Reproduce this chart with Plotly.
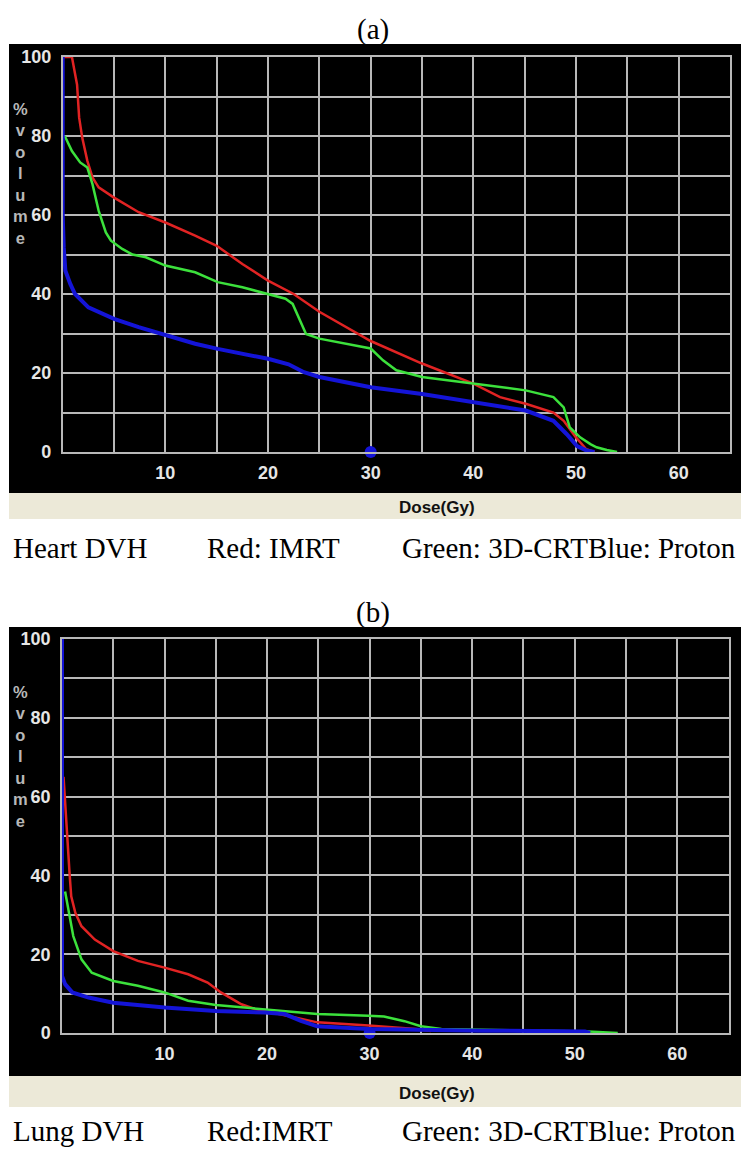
import plotly.graph_objects as go

W, H = 741, 1150

# ---------------- data ----------------
heart_imrt_dose = [0, 0.9, 1.4, 1.6, 1.9, 2.4, 2.9, 3.5, 5, 7.4, 10, 12.9, 15, 17.5, 20, 22.5, 25, 30, 35, 40, 42.6, 45.1, 47.8, 48.8, 50, 51, 51.8]
heart_imrt_vol = [100, 100, 93, 84.7, 79.6, 73.7, 69.5, 67, 64.4, 60.7, 58.1, 54.8, 52.2, 47.6, 43.4, 40.0, 35.5, 28.1, 22.4, 17.3, 13.9, 12.2, 10, 7.9, 3.7, 0.7, 0]

heart_3d_dose = [0.2, 0.9, 1.7, 2.4, 2.9, 3.5, 4.2, 4.7, 5.8, 6.8, 8.1, 10, 12.9, 15.1, 17.5, 20, 21.7, 22.4, 23, 23.7, 25, 30, 31.2, 32.5, 35, 40, 45.1, 47.8, 48.8, 49.4, 50.4, 51.4, 52, 53, 54]
heart_3d_vol = [80, 76.2, 73.3, 72, 67.8, 61.1, 55.6, 53.5, 51.4, 50, 49.3, 47.2, 45.5, 43, 41.7, 40, 38.8, 37.5, 34.1, 29.9, 28.7, 26.2, 23.2, 20.7, 19, 17.3, 15.6, 13.9, 11.3, 6.2, 3.7, 2, 1.2, 0.5, 0]

heart_proton_dose = [0, 0, 0.1, 0.26, 0.75, 1.2, 2.5, 5, 7.4, 10, 12.9, 15.1, 17.5, 20, 22, 23.5, 25, 30, 35, 40, 45.1, 47.8, 49.1, 50.1, 51, 51.8]
heart_proton_vol = [100, 60, 51.8, 45.9, 42.5, 40, 36.6, 33.7, 31.6, 29.5, 27.4, 26.1, 24.9, 23.6, 22.2, 20.2, 19, 16.4, 14.7, 12.6, 10.5, 7.9, 4.5, 1.5, 0.4, 0]

lung_imrt_dose = [0.15, 0.3, 0.5, 0.65, 0.75, 0.9, 1.3, 1.9, 3.2, 5, 7.4, 10, 12.3, 14.2, 15.5, 17.5, 18.8, 19.8, 22, 24.9, 29.9, 32, 34.5, 36]
lung_imrt_vol = [65, 58, 51.5, 45, 40, 34.7, 30.5, 27.1, 23.7, 20.8, 18.3, 16.6, 14.9, 12.8, 10.3, 7.3, 6.1, 5.6, 4.4, 2.7, 1.9, 1.5, 1.0, 0.5]

lung_3d_dose = [0.3, 0.65, 1.1, 1.9, 2.9, 5, 7.4, 10, 12.3, 15, 17.5, 19.8, 22, 24.9, 29.9, 31.4, 33.4, 35, 37, 41.5, 47.7, 51.3, 54.2]
lung_3d_vol = [35.9, 30.5, 24.6, 18.7, 15.3, 13.2, 12, 10.3, 8.2, 7.1, 6.5, 6.1, 5.6, 4.8, 4.4, 4.2, 3, 1.7, 1, 0.8, 0.6, 0.4, 0]

lung_proton_dose = [0, 0, 0.3, 1, 2.6, 5, 10, 15, 19.8, 21.7, 23.3, 24.9, 28.5, 30, 41, 51, 51.5]
lung_proton_vol = [100, 14.5, 12.4, 10.3, 9, 7.7, 6.5, 5.6, 5.2, 4.8, 3.1, 1.7, 1.2, 1.0, 0.6, 0.4, 0]

marker_dose = [30]
marker_vol = [0]

x_tickvals = [0, 5, 10, 15, 20, 25, 30, 35, 40, 45, 50, 55, 60, 65]
x_ticktext = ["", "", "10", "", "20", "", "30", "", "40", "", "50", "", "60", ""]
y_tickvals = [0, 10, 20, 30, 40, 50, 60, 70, 80, 90, 100]
y_ticktext = ["0", "", "20", "", "40", "", "60", "", "80", "", "100"]

panel_titles = ["(a)", "(b)"]
organ_captions = ["Heart DVH", "Lung DVH"]
imrt_captions = ["Red: IMRT", "Red:IMRT"]
other_caption = "Green: 3D-CRTBlue: Proton"
x_title = "Dose(Gy)"
y_title_letters = ["%", "v", "o", "l", "u", "m", "e"]

# ---------------- styling ----------------
RED = "rgb(225,35,35)"
GREEN = "rgb(60,225,60)"
BLUE = "rgb(20,20,215)"
GRID = "#b8b8b8"
BEIGE = "#ECE9D8"


def px_x(p):
    return p / W


def px_y(p):
    return (H - p) / H


fig = go.Figure()

panels = [
    dict(xa="x", ya="y", xd=(62.7, 730), yd=(452, 57), black=(44, 493), beige=(493, 519),
         title_y=30, dose_y=507, cap_y=548, vol_y=173,
         series=[(heart_imrt_dose, heart_imrt_vol, RED, 2.5),
                 (heart_3d_dose, heart_3d_vol, GREEN, 2.5),
                 (heart_proton_dose, heart_proton_vol, BLUE, 4)]),
    dict(xa="x2", ya="y2", xd=(62, 728.5), yd=(1033, 639), black=(627, 1076), beige=(1076, 1107),
         title_y=613, dose_y=1093, cap_y=1131, vol_y=756,
         series=[(lung_imrt_dose, lung_imrt_vol, RED, 2.5),
                 (lung_3d_dose, lung_3d_vol, GREEN, 2.5),
                 (lung_proton_dose, lung_proton_vol, BLUE, 4)]),
]

shapes = []
annotations = []
tickfont = dict(family="Liberation Sans", size=18, color="#e6e6e6", weight="bold")

for i, p in enumerate(panels):
    for xs, ys, col, lw in p["series"]:
        fig.add_trace(go.Scatter(x=xs, y=ys, mode="lines", line=dict(color=col, width=lw),
                                 xaxis=p["xa"], yaxis=p["ya"], showlegend=False, cliponaxis=False,
                                 hoverinfo="skip"))
    fig.add_trace(go.Scatter(x=marker_dose, y=marker_vol, mode="markers",
                             marker=dict(color=BLUE, size=12),
                             xaxis=p["xa"], yaxis=p["ya"], showlegend=False, cliponaxis=False,
                             hoverinfo="skip"))

    suffix = "" if i == 0 else "2"
    fig.layout["xaxis" + suffix] = dict(
        domain=[px_x(p["xd"][0]), px_x(p["xd"][1])], range=[0, 65], anchor="y" + suffix,
        tickvals=x_tickvals, ticktext=x_ticktext, showgrid=True, gridcolor=GRID, gridwidth=1.5,
        zeroline=False, showline=True, linecolor=GRID, linewidth=1.5, mirror=True,
        ticks="", tickfont=tickfont, ticklabelstandoff=4, fixedrange=True, automargin=False)
    fig.layout["yaxis" + suffix] = dict(
        domain=[px_y(p["yd"][0]), px_y(p["yd"][1])], range=[0, 100], anchor="x" + suffix,
        tickvals=y_tickvals, ticktext=y_ticktext, showgrid=True, gridcolor=GRID, gridwidth=1.5,
        zeroline=False, showline=True, linecolor=GRID, linewidth=1.5, mirror=True,
        ticks="", tickfont=tickfont, ticklabelstandoff=6, fixedrange=True, automargin=False)

    shapes.append(dict(type="rect", xref="paper", yref="paper", layer="below",
                       x0=px_x(9), x1=1.0, y0=px_y(p["black"][1]), y1=px_y(p["black"][0]),
                       fillcolor="black", line=dict(width=0)))
    shapes.append(dict(type="rect", xref="paper", yref="paper", layer="below",
                       x0=px_x(9), x1=1.0, y0=px_y(p["beige"][1]), y1=px_y(p["beige"][0]),
                       fillcolor=BEIGE, line=dict(width=0)))

    serif = dict(family="Liberation Serif", size=29, color="black")
    annotations.append(dict(text=panel_titles[i], xref="paper", yref="paper",
                            x=px_x(373), y=px_y(p["title_y"]), xanchor="center", yanchor="middle",
                            showarrow=False, font=serif))
    annotations.append(dict(text=x_title, xref="paper", yref="paper",
                            x=px_x(437), y=px_y(p["dose_y"]), xanchor="center", yanchor="middle",
                            showarrow=False,
                            font=dict(family="Liberation Sans", size=17, color="#111111", weight="bold")))
    annotations.append(dict(text=organ_captions[i], xref="paper", yref="paper",
                            x=px_x(11), y=px_y(p["cap_y"]), xanchor="left", yanchor="middle",
                            showarrow=False, font=serif))
    annotations.append(dict(text=imrt_captions[i], xref="paper", yref="paper",
                            x=px_x(205), y=px_y(p["cap_y"]), xanchor="left", yanchor="middle",
                            showarrow=False, font=serif))
    annotations.append(dict(text=other_caption, xref="paper", yref="paper",
                            x=px_x(738), y=px_y(p["cap_y"]), xanchor="right", yanchor="middle",
                            showarrow=False, font=serif))
    annotations.append(dict(text="<br>".join(y_title_letters), xref="paper", yref="paper",
                            x=px_x(20), y=px_y(p["vol_y"]), xanchor="center", yanchor="middle",
                            showarrow=False, align="center",
                            font=dict(family="Liberation Sans", size=16.5, color="#b8b8b8", weight="bold")))

fig.update_layout(width=W, height=H, margin=dict(l=0, r=0, t=0, b=0, autoexpand=False),
                  paper_bgcolor="white", plot_bgcolor="black",
                  shapes=shapes, annotations=annotations, showlegend=False)

fig.write_html("out.html", config={"displayModeBar": False},
               post_script="document.body.style.margin='0px';document.body.style.overflow='hidden';")
